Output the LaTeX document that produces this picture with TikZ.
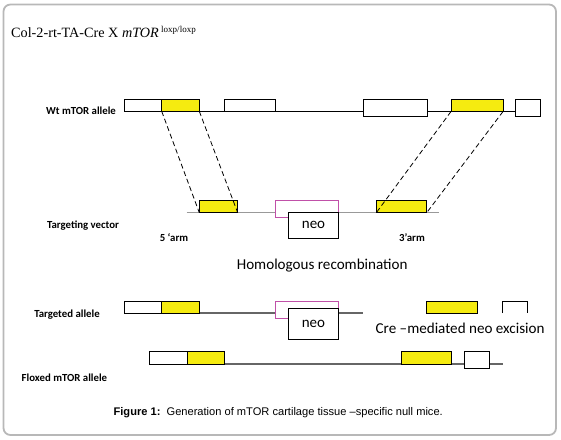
\documentclass[tikz,border=0pt]{standalone}
\usepackage{fontspec}
\setmainfont{Liberation Serif}
\newfontfamily\calfont{Carlito}
\newfontfamily\capfont{Liberation Sans}
\usetikzlibrary{positioning}
\definecolor{exonyellow}{HTML}{F5EB10}
\definecolor{loxpink}{HTML}{C050A8}
\definecolor{framegray}{HTML}{B8B8B8}

\begin{document}
\begin{tikzpicture}[x=1pt,y=-1pt,
    exon/.style={draw, line width=1pt, fill=white, inner sep=0pt, outer sep=0pt, anchor=north west},
    yexon/.style={exon, fill=exonyellow},
    neobox/.style={exon, font=\calfont\fontsize{15}{17}\selectfont},
    loxbox/.style={draw=loxpink, line width=0.8pt, fill=white},
    dna/.style={line width=1pt},
    vec/.style={line width=1.5pt, draw=black!40},
    tgt/.style={line width=1.3pt, draw=black!60},
    lbl/.style={font=\calfont\bfseries\fontsize{10.8}{12}\selectfont},
    big/.style={font=\calfont\fontsize{15.1}{17}\selectfont},
    hom/.style={dashed, dash pattern=on 5pt off 3pt, line width=0.8pt}]
  \useasboundingbox (0,0) rectangle (561,439);
  \draw[framegray, line width=1.8pt, rounded corners=7pt] (3.5,4.5) rectangle (556,435);

  % title
  \node[anchor=base west, inner sep=0pt] (title) at (11,37.7)
    {\fontsize{14.2}{16}\selectfont Col-2-rt-TA-Cre X \textit{mTOR}\,\raisebox{5.5pt}{\fontsize{9}{10}\selectfont loxp/loxp}};

  % wild type allele
  \coordinate (wstart) at (124.3,111.5);
  \coordinate (wend)   at (515.3,111.5);
  \draw[dna] (wstart) -- (wend);
  \node[exon,  minimum width=37.4pt, minimum height=12pt]   (w1)  at (124.3,99.3) {};
  \node[yexon, minimum width=37.6pt, minimum height=12pt]   (wy1) at (161.7,99.3) {};
  \node[exon,  minimum width=51.4pt, minimum height=12pt]   (w2)  at (224.3,99.3) {};
  \node[exon,  minimum width=64pt,   minimum height=17pt]   (w3)  at (363,99.3) {};
  \node[yexon, minimum width=52pt,   minimum height=12.2pt] (wy2) at (451,99.3) {};
  \node[exon,  minimum width=25.4pt, minimum height=17pt]   (w4)  at (515.3,99.3) {};
  \node[lbl] (wlabel) at (81,111) {Wt mTOR allele};

  % targeting vector
  \coordinate (vstart) at (186.7,212.7);
  \coordinate (vend)   at (439.3,212.7);
  \draw[vec] (vstart) -- (vend);
  \draw[loxbox] (275.3,200.3) rectangle (338.7,217);
  \node[yexon, minimum width=38.4pt, minimum height=12.4pt] (ty1) at (199.3,200.3) {};
  \node[yexon, minimum width=50.4pt, minimum height=12.4pt] (ty2) at (376.3,200.3) {};
  \node[neobox, minimum width=50.4pt, minimum height=26pt]  (neo1) at (288.3,212.3) {neo};
  \node[lbl] (vlabel) at (83,225.7) {Targeting vector};
  \node[lbl] (arm5) at (174,237.7) {5 ‘arm};
  \node[lbl] (arm3) at (412,237.7) {3’arm};
  \node[big] (homrec) at (322.2,265.7) {Homologous recombination};

  \path[hom]
        (wy1.south west) edge (ty1.south west)
        (wy1.south east) edge (ty1.south east)
        (wy2.south west) edge (ty2.south west)
        (wy2.south east) edge (ty2.south east);

  % targeted allele
  \coordinate (tstart) at (199.3,313);
  \coordinate (tend)   at (363,313);
  \draw[tgt] (tstart) -- (tend);
  \draw[loxbox] (275,301.3) rectangle (338.5,318.3);
  \node[exon,  minimum width=37.2pt, minimum height=12pt]   (t1)  at (124.5,301.3) {};
  \node[yexon, minimum width=37.6pt, minimum height=12pt]   (ty3) at (161.7,301.3) {};
  \node[neobox, minimum width=50.1pt, minimum height=31pt]  (neo2) at (288.4,308.3) {neo};
  \node[yexon, minimum width=51.3pt, minimum height=11.7pt] (ty4) at (426,301.3) {};
  \draw[line width=1pt] (502.3,313) |- (527.4,301.3) -- (527.4,313);
  \node[lbl] (tlabel) at (67,314.3) {Targeted allele};
  \node[big] (cre) at (460.1,328.7) {Cre –mediated neo excision};

  % floxed allele
  \coordinate (fstart) at (224.3,364);
  \coordinate (fend)   at (502.7,364);
  \draw[tgt] (fstart) -- (fend);
  \node[exon,  minimum width=38.3pt, minimum height=12.3pt] (f1)  at (149.2,351.7) {};
  \node[yexon, minimum width=36.8pt, minimum height=12.3pt] (fy1) at (187.5,351.7) {};
  \node[yexon, minimum width=50.1pt, minimum height=12.3pt] (fy2) at (401.4,351.7) {};
  \node[exon,  minimum width=25pt,   minimum height=16.6pt] (f2)  at (464.4,351.7) {};
  \node[lbl] (flabel) at (64.4,377.3) {Floxed mTOR allele};

  % caption
  \node[anchor=base west, inner sep=0pt, font=\capfont\fontsize{11.1}{13}\selectfont] (caption) at (113.4,415.7)
    {\textbf{Figure 1:}\ \ Generation of mTOR cartilage tissue –specific null mice.};
\end{tikzpicture}
\end{document}
